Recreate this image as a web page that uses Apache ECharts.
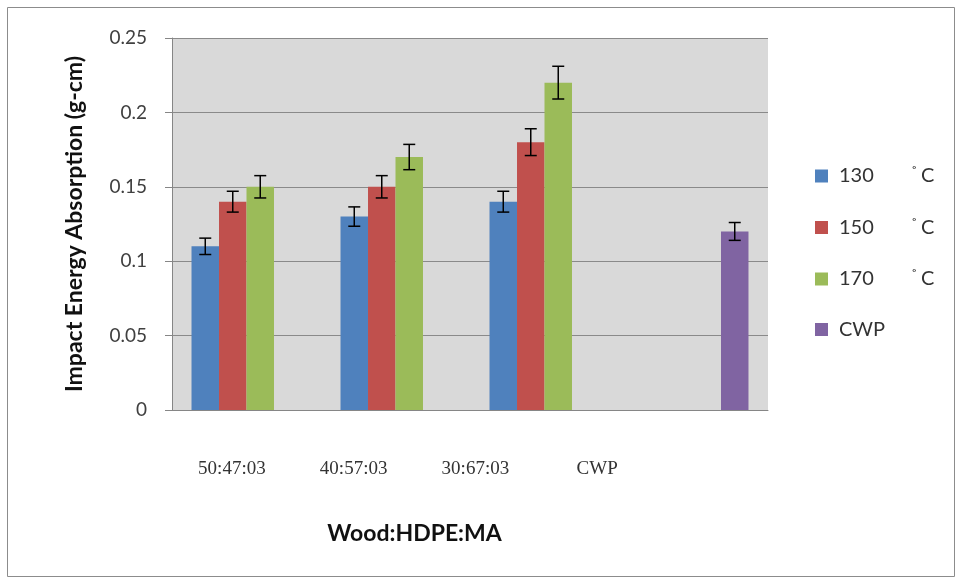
<!DOCTYPE html>
<html>
<head>
<meta charset="utf-8">
<script src="https://cdn.jsdelivr.net/npm/echarts@6/dist/echarts.min.js"></script>
<style>html,body{margin:0;padding:0;background:#fff}#c{width:962px;height:583px}</style>
</head>
<body>
<div id="c"></div>
<script>
const categories = ['50:47:03', '40:57:03', '30:67:03', 'CWP'];
const seriesNames = ['130', '150', '170', 'CWP'];
const tempUnit = '˚C';
const values130 = [0.11, 0.13, 0.14, '-'];
const values150 = [0.14, 0.15, 0.18, '-'];
const values170 = [0.15, 0.17, 0.22, '-'];
const valuesCWP = ['-', '-', '-', 0.12];
const err130 = [0.0055, 0.0065, 0.007, '-'];
const err150 = [0.007, 0.0075, 0.009, '-'];
const err170 = [0.0075, 0.0085, 0.011, '-'];
const errCWP = ['-', '-', '-', 0.006];
const yTicks = { min: 0, max: 0.25, interval: 0.05 };

const allValues = [values130, values150, values170, valuesCWP];
const allErrs = [err130, err150, err170, errCWP];
const colors = ['#4f81bd', '#c0504d', '#9bbb59', '#8064a2'];
const catGap = 0.262;
const nSeries = 4;

const errData = [];
allValues.forEach((arr, si) => {
  arr.forEach((v, ci) => {
    if (v !== '-') errData.push([ci, v, allErrs[si][ci], si]);
  });
});

const chart = echarts.init(document.getElementById('c'));
const barSeries = seriesNames.map((n, i) => ({
  name: n, type: 'bar', xAxisIndex: 0, yAxisIndex: 0,
  data: allValues[i], barGap: '0%', barCategoryGap: (catGap * 100) + '%',
  itemStyle: { color: colors[i] }
}));

chart.setOption({
  animation: false,
  textStyle: { fontFamily: 'Lato' },
  graphic: [{ type: 'rect', shape: { x: 7.5, y: 7.5, width: 947, height: 569 },
    style: { fill: 'none', stroke: '#8c8c8c', lineWidth: 1 } }],
  legend: {
    orient: 'vertical', left: 810, top: 160, itemGap: 30.5,
    itemWidth: 13, itemHeight: 13, icon: 'rect',
    data: seriesNames,
    formatter: n => n === 'CWP' ? '{a|CWP}' : '{a|' + n + '}{b|' + tempUnit[0] + '}{c|' + tempUnit.slice(1) + '}',
    textStyle: {
      rich: {
        a: { fontSize: 20, lineHeight: 22, color: '#333', fontFamily: 'Lato', width: 72, padding: [0, 0, 0, 6] },
        b: { fontSize: 16, lineHeight: 12, verticalAlign: 'top', color: '#333', width: 10 },
        c: { fontSize: 20, lineHeight: 22, color: '#333', fontFamily: 'Lato' }
      }
    }
  },
  grid: [
    { left: 172, top: 38, width: 596, height: 372, show: true, backgroundColor: '#d9d9d9', borderWidth: 0 },
    { left: 171, top: 38, width: 487, height: 372, show: false }
  ],
  xAxis: [
    { type: 'category', gridIndex: 0, data: categories,
      axisLine: { show: true, lineStyle: { color: '#868686' } },
      axisTick: { show: false }, axisLabel: { show: false } },
    { type: 'category', gridIndex: 1, data: categories,
      axisLine: { show: false }, axisTick: { show: false },
      axisLabel: { margin: 50, fontFamily: 'Liberation Serif', fontSize: 19, color: '#333' },
      name: 'Wood:HDPE:MA', nameLocation: 'middle', nameGap: 112,
      nameTextStyle: { fontFamily: 'Lato', fontWeight: 'bold', fontSize: 23, color: '#111' } }
  ],
  yAxis: [
    { type: 'value', gridIndex: 0, min: yTicks.min, max: yTicks.max, interval: yTicks.interval,
      axisLine: { show: true, lineStyle: { color: '#868686' } },
      axisTick: { show: true, inside: false, length: 7, lineStyle: { color: '#868686' } },
      axisLabel: { margin: 25, fontSize: 19, color: '#404040', fontFamily: 'Lato' },
      splitLine: { show: true, lineStyle: { color: '#8a8a8a', width: 1 } },
      name: 'Impact Energy Absorption (g-cm)', nameLocation: 'middle', nameGap: 86,
      nameTextStyle: { fontFamily: 'Lato', fontWeight: 'bold', fontSize: 23, color: '#111' } },
    { type: 'value', gridIndex: 1, show: false, min: 0, max: 0.25 }
  ],
  series: barSeries.concat([{
    type: 'custom', xAxisIndex: 0, yAxisIndex: 0, z: 10,
    data: errData, encode: { x: 0, y: 1 },
    renderItem: (params, api) => {
      const ci = api.value(0), v = api.value(1), e = api.value(2), si = api.value(3);
      const band = api.size([1, 0])[0];
      const groupW = band * (1 - catGap);
      const bw = groupW / nSeries;
      const x = api.coord([ci, v])[0] - groupW / 2 + bw * (si + 0.5);
      const yt = api.coord([ci, v + e])[1];
      const yb = api.coord([ci, v - e])[1];
      const cap = 6;
      const st = { stroke: '#000', lineWidth: 1.5 };
      return { type: 'group', children: [
        { type: 'line', shape: { x1: x, y1: yt, x2: x, y2: yb }, style: st },
        { type: 'line', shape: { x1: x - cap, y1: yt, x2: x + cap, y2: yt }, style: st },
        { type: 'line', shape: { x1: x - cap, y1: yb, x2: x + cap, y2: yb }, style: st }
      ] };
    }
  }])
});
</script>
</body>
</html>
